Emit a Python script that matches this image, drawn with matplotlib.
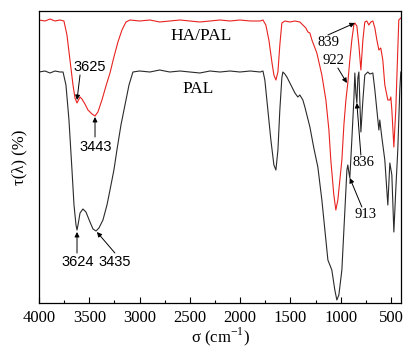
import numpy as np
import matplotlib
matplotlib.use("Agg")
import matplotlib.pyplot as plt
from matplotlib.ticker import MultipleLocator

plt.rcParams['font.family'] = ['Liberation Serif', 'DejaVu Serif']
plt.rcParams['mathtext.fontset'] = 'custom'
plt.rcParams['mathtext.rm'] = 'Liberation Serif'

# HA/PAL spectrum (wavenumber, transmittance a.u.)
wn_ha = [4000, 3940, 3891, 3841, 3791, 3752, 3722, 3692, 3662, 3642, 3622, 3612, 3592, 3573,
         3543, 3513, 3473, 3443, 3414, 3374, 3334, 3294, 3255, 3215, 3175, 3135, 3095, 3000,
         2897, 2800, 2700, 2598, 2500, 2400, 2300, 2200, 2100, 2002, 1900, 1800, 1773, 1744,
         1714, 1684, 1664, 1644, 1624, 1605, 1585, 1555, 1505, 1455, 1406, 1376, 1346, 1326,
         1306, 1286, 1237, 1187, 1147, 1117, 1098, 1068, 1048, 1028, 1008, 988, 968, 948,
         929, 909, 889, 869, 859, 839, 819, 799, 779, 760, 740, 720, 700, 680, 660, 640, 620,
         601, 581, 561, 531, 511, 501, 491, 471, 452, 432, 422, 402]
t_ha = [283, 282, 284, 282, 283, 282, 268, 243, 218, 205, 200, 202, 206, 204,
        199, 193, 189, 187, 191, 203, 217, 230, 246, 261, 273, 281, 283, 282,
        283, 281, 282, 283, 282, 281, 282, 283, 282, 283, 282, 282, 283, 278,
        263, 241, 228, 223, 231, 258, 280, 282, 281, 282, 281, 278, 275, 271,
        270, 263, 250, 228, 203, 173, 143, 108, 93, 103, 123, 143, 178, 203,
        220, 243, 263, 278, 280, 277, 258, 233, 263, 281, 282, 278, 281, 282, 275, 263, 253,
        255, 243, 218, 203, 203, 206, 193, 156, 193, 253, 283, 285]

# PAL spectrum
wn_pal = [4000, 3940, 3891, 3841, 3791, 3761, 3732, 3702, 3672, 3652, 3632, 3622, 3612, 3592,
          3563, 3533, 3493, 3463, 3433, 3404, 3364, 3324, 3294, 3255, 3225, 3185, 3145, 3105,
          3066, 3000, 2897, 2800, 2700, 2598, 2500, 2400, 2300, 2200, 2100, 2002, 1900, 1800,
          1773, 1754, 1724, 1694, 1664, 1644, 1624, 1605, 1585, 1575, 1555, 1535, 1495, 1455,
          1426, 1406, 1376, 1356, 1306, 1267, 1227, 1187, 1147, 1127, 1088, 1058, 1038, 1018,
          988, 958, 938, 929, 919, 909, 889, 869, 859, 849, 839, 829, 819, 799, 779, 760, 730,
          710, 680, 660, 630, 620, 611, 591, 561, 531, 511, 491, 471, 452, 432, 412, 402]
t_pal = [231, 232, 230, 232, 231, 231, 218, 183, 133, 98, 78, 73, 78, 90,
         94, 91, 81, 74, 72, 75, 83, 98, 113, 133, 153, 178, 198, 218,
         231, 232, 231, 233, 231, 232, 231, 230, 232, 231, 232, 231, 232, 231,
         232, 223, 193, 163, 138, 133, 153, 193, 225, 231, 229, 226, 218, 210,
         206, 208, 203, 196, 176, 155, 136, 103, 63, 43, 33, 13, 3, 8,
         33, 93, 133, 138, 131, 125, 163, 203, 230, 210, 200, 225, 231, 171, 203, 228, 231,
         229, 230, 213, 183, 173, 183, 166, 143, 98, 140, 128, 71, 113, 153, 213, 231]

fig = plt.figure(figsize=(4.04, 3.49), dpi=100)
ax = fig.add_axes([39/404, 1-303/349, 362/404, 292/349])

ax.plot(wn_ha, t_ha, color='#e8231f', lw=0.8)
ax.plot(wn_pal, t_pal, color='#2a2a2a', lw=0.8)

ax.set_xlim(4000, 400)
ax.set_ylim(0, 292)
ax.xaxis.set_major_locator(MultipleLocator(500))
ax.xaxis.set_minor_locator(MultipleLocator(250))
ax.tick_params(axis='x', which='both', direction='in', labelsize=12, pad=5)
ax.tick_params(axis='x', which='major', length=4, width=0.8)
ax.tick_params(axis='x', which='minor', length=2.5, width=0.8)
ax.set_yticks([])
for s in ax.spines.values():
    s.set_linewidth(0.9)

ax.set_xlabel('σ (cm$^{-1}$)', fontsize=12, labelpad=0)
ax.set_ylabel('τ(λ) (%)', fontsize=12, labelpad=8)

ax.text(2385, 267, 'HA/PAL', fontsize=12.5, ha='center', va='center')
ax.text(2415, 214, 'PAL', fontsize=12.5, ha='center', va='center')

arr = dict(arrowstyle='-|>', lw=0.7, color='k', mutation_scale=7, shrinkA=0, shrinkB=0)

# (label, text pos, arrow tail, arrow head, font)
notes = [
    ('3625', (3493, 236), (3592, 228), (3622, 203), 'Liberation Sans'),
    ('3443', (3433, 156), (3443, 166), (3443, 186), 'Liberation Sans'),
    ('3624', (3612, 41), (3622, 50), (3622, 71), 'Liberation Sans'),
    ('3435', (3245, 41), (3245, 50), (3424, 71), 'Liberation Sans'),
    ('839', (1117, 261), (1127, 268), (859, 280), 'Liberation Serif'),
    ('922', (1068, 243), (1028, 235), (938, 220), 'Liberation Serif'),
    ('836', (770, 140), (799, 148), (839, 200), 'Liberation Serif'),
    ('913', (750, 89), (789, 96), (909, 125), 'Liberation Serif'),
]
for lab, tp, tail, head, fam in notes:
    ax.text(tp[0], tp[1], lab, fontsize=10.5, ha='center', va='center', family=fam)
    ax.annotate('', xy=head, xytext=tail, arrowprops=arr)

fig.savefig('out.png', dpi=100)
